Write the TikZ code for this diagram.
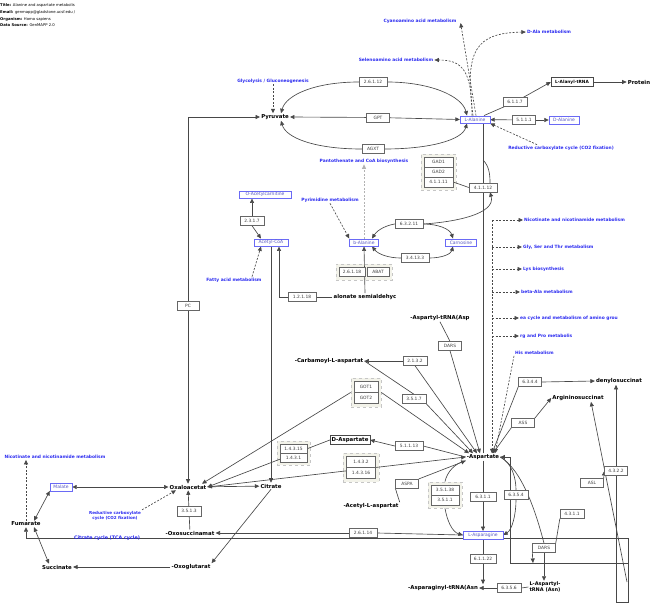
\documentclass[tikz,border=0pt]{standalone}
\usepackage{fontspec}
\setmainfont{DejaVu Sans}
\usetikzlibrary{arrows.meta,fit,calc}
\pgfdeclarelayer{grp}
\pgfdeclarelayer{edges}
\pgfsetlayers{grp,edges,main}
\definecolor{lc}{HTML}{484848}
\definecolor{pwblue}{HTML}{2B2BF0}
\definecolor{boxblue}{HTML}{6A6AF5}
\definecolor{grpfill}{HTML}{F3F3EA}
\begin{document}
\begin{tikzpicture}[x=1pt, y=-1pt,
  hdr/.style={anchor=west, inner sep=0pt, font=\fontsize{3.8}{4}\selectfont},
  met/.style={inner sep=1pt, font=\bfseries\fontsize{5.4}{6}\selectfont, align=center},
  metb/.style={met, draw=lc, fill=white, minimum height=9pt, inner sep=1.5pt},
  mbox/.style={rectangle, draw=boxblue, fill=white, text=boxblue!80!black, inner sep=0pt,
               minimum height=7.5pt, minimum width=#1, font=\fontsize{4.5}{5}\selectfont},
  mbox/.default=30pt,
  enz/.style={rectangle, draw=gray!80!black, fill=white, text=black!75, inner sep=0pt,
              minimum height=9pt, minimum width=#1, font=\fontsize{4.4}{5}\selectfont},
  enz/.default=24pt,
  pw/.style={text=pwblue, inner sep=1pt, align=center, font=\bfseries\fontsize{4.4}{5}\selectfont},
  pwr/.style={pw, anchor=west},
  grp/.style={draw=gray!45, dashed, fill=grpfill, inner sep=3pt},
  ln/.style={draw=lc, line width=0.65pt},
  arr/.style={ln, -{Triangle[length=4.5pt,width=4pt]}},
  bi/.style={ln, {Triangle[length=4.5pt,width=4pt]}-{Triangle[length=4.5pt,width=4pt]}},
  darr/.style={arr, dashed, dash pattern=on 2pt off 1.5pt}
]
  \useasboundingbox (0,0) rectangle (660,613);

  % header
  \node[hdr] (title) at (0,5) {\textbf{Title:} Alanine and aspartate metabolis};
  \node[hdr] (email) at (0,12) {\textbf{Email:} genmapp@gladstone.ucsf.edu /};
  \node[hdr] (org) at (0,19) {\textbf{Organism:} Homo sapiens};
  \node[hdr] (src) at (0,25) {\textbf{Data Source:} GenMAPP 2.0};

  % metabolites
  \node[met] (pyr) at (275,117) {Pyruvate};
  \node[mbox] (ala) at (475,119.5) {L-Alanine};
  \node[mbox] (dala) at (564,120) {D-Alanine};
  \node[metb, font=\bfseries\fontsize{4.3}{5}\selectfont, minimum width=42pt] (alat) at (572,82) {L-Alanyl-tRNA};
  \node[met] (prot) at (639,82) {Protein};
  \node[mbox=29pt] (bala) at (364,242.5) {b-Alanine};
  \node[mbox=31pt] (carn) at (461,242.5) {Carnosine};
  \node[mbox=34pt] (acoa) at (271,242.5) {Acetyl-CoA};
  \node[mbox=52pt] (oacc) at (265,194.5) {O-Acetylcarnitine};
  \node[met] (mal) at (365,297) {alonate semialdehyc};
  \node[met] (aspt) at (440,318) {-Aspartyl-tRNA(Asp};
  \node[met] (cbm) at (329,361) {-Carbamoyl-L-aspartat};
  \node[metb] (dasp) at (350,440) {D-Aspartate};
  \node[met] (asp) at (483,457) {-Aspartate};
  \node[met] (acasp) at (371,506) {-Acetyl-L-aspartat};
  \node[mbox=40pt] (asn) at (483,535) {L-Asparagine};
  \node[met] (asnt) at (443,588) {-Asparaginyl-tRNA(Asn};
  \node[met, font=\bfseries\fontsize{5}{5.6}\selectfont] (asptn) at (545,587) {L-Aspartyl-\\tRNA (Asn)};
  \node[met] (ads) at (619,381) {denylosuccinat};
  \node[met] (ags) at (578,398) {Argininosuccinat};
  \node[met] (oaa) at (188,487) {Oxaloacetat};
  \node[met] (cit) at (271,486) {Citrate};
  \node[mbox=22pt] (malate) at (61,487) {Malate};
  \node[met] (fum) at (26,524) {Fumarate};
  \node[met] (suc) at (57,567) {Succinate};
  \node[met] (oxs) at (190,533) {-Oxosuccinamat};
  \node[met] (ogl) at (191,567) {-Oxoglutarat};

  % enzymes
  \node[enz=28pt] (e26112) at (373,82) {2.6.1.12};
  \node[enz=23pt] (gpt) at (378,117.5) {GPT};
  \node[enz=22pt] (agxt) at (373,149) {AGXT};
  \node[enz] (e6117) at (515,102) {6.1.1.7};
  \node[enz=23pt] (e5111) at (524,120) {5.1.1.1};
  \node[enz=29pt, minimum height=10pt] (gad1) at (438.5,162) {GAD1};
  \node[enz=29pt, minimum height=10pt] (gad2) at (438.5,172) {GAD2};
  \node[enz=29pt, minimum height=10pt] (e41111) at (438.5,182) {4.1.1.11};
  \node[enz=28pt] (e41112) at (483,187.5) {4.1.1.12};
  \node[enz=28pt] (e63211) at (409,224) {6.3.2.11};
  \node[enz=28pt] (e34133) at (415,258) {3.4.13.3};
  \node[enz=26pt] (e26118) at (352,272) {2.6.1.18};
  \node[enz=22pt] (abat) at (378,272) {ABAT};
  \node[enz] (e23117) at (252,221) {2.3.1.7};
  \node[enz=28pt] (e12118) at (302,297) {1.2.1.18};
  \node[enz=22pt] (pc) at (188,306) {PC};
  \node[enz=23pt] (dars1) at (450,346) {DARS};
  \node[enz] (e2132) at (415,361) {2.1.3.2};
  \node[enz] (e3517) at (414,399) {3.5.1.7};
  \node[enz, minimum height=11pt] (got1) at (366,387) {GOT1};
  \node[enz, minimum height=11pt] (got2) at (366,398) {GOT2};
  \node[enz=28pt] (e51113) at (409,446) {5.1.1.13};
  \node[enz=27pt] (e14315) at (293.5,448.5) {1.4.3.15};
  \node[enz=27pt] (e1431) at (293.5,457.5) {1.4.3.1};
  \node[enz=29pt, minimum height=11pt] (e1432) at (361,462) {1.4.3.2};
  \node[enz=29pt, minimum height=11pt] (e14316) at (361,473) {1.4.3.16};
  \node[enz=23pt] (aspa) at (407,483.5) {ASPA};
  \node[enz=28pt, minimum height=10pt] (e35138) at (445,490) {3.5.1.38};
  \node[enz=28pt, minimum height=10pt] (e3511) at (445,500) {3.5.1.1};
  \node[enz=26pt] (e6311) at (483,497) {6.3.1.1};
  \node[enz=28pt] (e2614) at (363,533) {2.6.1.14};
  \node[enz=26pt] (e61122) at (483,559) {6.1.1.22};
  \node[enz] (e6356) at (509,588) {6.3.5.6};
  \node[enz] (e6354) at (516,495) {6.3.5.4};
  \node[enz=23pt] (dars2) at (544,548) {DARS};
  \node[enz] (e4311) at (572,514) {4.3.1.1};
  \node[enz=23pt] (e6344) at (530,382) {6.3.4.4};
  \node[enz=23pt] (ass) at (523,423) {ASS};
  \node[enz=23pt] (asl) at (592,483) {ASL};
  \node[enz=23pt] (e4322) at (616,471) {4.3.2.2};
  \node[enz=24pt, minimum height=10pt] (e3513) at (189,511) {3.5.1.3};

  % pathways
  \node[pw] (glyc) at (273,81) {Glycolysis / Gluconeogenesis};
  \node[pw] (cyan) at (420,21) {Cyanoamino acid metabolism};
  \node[pw] (selen) at (396,60) {Selenoamino acid metabolism};
  \node[pw] (dalapath) at (549,32) {D-Ala metabolism};
  \node[pw] (redc) at (561,148) {Reductive carboxylate cycle (CO2 fixation)};
  \node[pw] (panto) at (364,161) {Pantothenate and CoA biosynthesis};
  \node[pw] (pyrim) at (330,200) {Pyrimidine metabolism};
  \node[pw] (fatty) at (234,280) {Fatty acid metabolism};
  \node[pwr] (nicr) at (523,220) {Nicotinate and nicotinamide metabolism};
  \node[pwr] (gly) at (522,247) {Gly, Ser and Thr metabolism};
  \node[pwr] (lys) at (522,269) {Lys biosynthesis};
  \node[pwr] (beta) at (520,292) {beta-Ala metabolism};
  \node[pwr] (urea) at (519,318) {ea cycle and metabolism of amino grou};
  \node[pwr] (argp) at (519,336) {rg and Pro metabolis};
  \node[pwr] (his) at (514,353) {His metabolism};
  \node[pw] (nicl) at (55,457) {Nicotinate and nicotinamide metabolism};
  \node[pw, font=\bfseries\fontsize{4.1}{5}\selectfont] (redcl) at (115,515.5) {Reductive carboxylate\\cycle (CO2 fixation)};
  \node[pw, font=\bfseries\fontsize{4.8}{5}\selectfont] (tca) at (107,538) {Citrate cycle (TCA cycle)};

  \begin{pgfonlayer}{grp}
    \node[grp, fit=(gad1)(e41111)] (gadgrp) {};
    \node[grp, fit=(e26118)(abat)] (abatgrp) {};
    \node[grp, fit=(got1)(got2)] (gotgrp) {};
    \node[grp, fit=(e14315)(e1431)] (ox15grp) {};
    \node[grp, fit=(e1432)(e14316)] (ox2grp) {};
    \node[grp, fit=(e35138)(e3511)] (asngrp) {};
  \end{pgfonlayer}

  \coordinate (dtop) at (492,220);
  \coordinate (k1) at (483,160);
  \coordinate (tcaR) at (628,538);
  \coordinate (rtl) at (510,457);
  \coordinate (rbl) at (510,563);
  \coordinate (rbr) at (628,563);
  \coordinate (nb) at (628,602);
  \coordinate (nbl) at (616,602);
  \coordinate (dg) at (627,582);
  \coordinate (rb) at (533,563);

  \begin{pgfonlayer}{edges}
  % alanine
  \draw[arr] (gpt) -- (pyr.east);
  \draw[arr] (gpt) -- (ala.west);
  \draw[arr] (e26112.west) .. controls (315,82) and (286,95) .. ([xshift=6pt]pyr.north);
  \draw[arr] (e26112.east) .. controls (430,82) and (462,96) .. ([xshift=-8pt]ala.north);
  \draw[arr] (agxt.west) .. controls (315,149) and (286,138) .. ([xshift=6pt]pyr.south);
  \draw[arr] (agxt.east) .. controls (430,149) and (462,140) .. ([xshift=-8pt]ala.south);
  \draw[arr] (pc.north) |- (pyr.west);
  \draw[arr] (pc.south) -- (oaa.north);
  \draw[darr] (glyc.south) -- (glyc.south |- pyr.north);
  \draw[darr] ([xshift=1pt]ala.north) -- ([xshift=3pt,yshift=-2pt]cyan.east);
  \draw[darr] ([xshift=-3pt]ala.north) .. controls (472,70) and (462,60) .. (selen.east);
  \draw[darr] ([xshift=-2pt]ala.north) .. controls (464,50) and (476,33) .. (dalapath.west);
  \draw[darr] ($(redc.north west)+(30,0)$) -- (ala.south east);
  \draw[ln] (ala) -- (e6117);
  \draw[arr] (e6117) -- (alat.west);
  \draw[arr] (alat) -- (prot);
  \draw[arr] (e5111) -- (ala);
  \draw[arr] (e5111) -- (dala);
  \draw[ln] (asp.north) -- (asp.north |- ala.south);
  % beta-alanine
  \draw[ln] (e41111.east) -- (e41112.west);
  \draw[ln] (k1) .. controls (489,166) and (490,174) .. ([xshift=7pt]e41112.north);
  \draw[arr] (e63211.east) .. controls (455,222) and (496,214) .. ([xshift=7pt]e41112.south);
  \draw[arr] (e63211.west) .. controls (388,225) and (378,229) .. ([xshift=8pt]bala.north);
  \draw[arr] (e63211.east) .. controls (438,224) and (450,229) .. ([xshift=-8pt]carn.north);
  \draw[arr] (e34133.west) .. controls (388,258) and (378,254) .. ([xshift=8pt]bala.south);
  \draw[arr] (e34133.east) .. controls (442,258) and (451,254) .. ([xshift=-8pt]carn.south);
  \draw[darr, line width=1pt, draw=gray!60] (bala.north) -- (panto.south);
  \draw[darr] (pyrim.south) -- (bala.north west);
  \draw[arr] (mal.north) -- (bala.south);
  \draw[ln] (mal.west) -- (e12118.east);
  \draw[arr] (e12118.west) -| ([xshift=8pt]acoa.south);
  \draw[arr] (e23117.north) -- (e23117.north |- oacc.south);
  \draw[arr] (e23117.south) -- ([xshift=-10pt]acoa.north);
  \draw[darr] ([xshift=18pt]fatty.north) -- ([xshift=-10pt]acoa.south);
  \draw[arr] (acoa.south) -- (cit.north);
  % TCA
  \draw[bi] (malate) -- (oaa);
  \draw[arr] (oaa) -- (cit);
  \draw[bi] (malate.south west) -- ([xshift=8pt]fum.north);
  \draw[bi] ([xshift=8pt]fum.south) -- ([xshift=-8pt]suc.north);
  \draw[arr] (ogl) -- (suc);
  \draw[arr] (cit.south) -- (ogl.north east);
  \draw[ln] (oxs) -- (e3513);
  \draw[arr] (e3513) -- (oaa);
  \draw[darr] (redcl.north east) -- ([xshift=-12pt]oaa.south);
  \draw[darr] (fum.north) -- (fum.north |- nicl.south);
  \draw[arr] (tcaR) -| (fum.south);
  % aspartate
  \draw[darr] (dtop) -- ([xshift=9pt]asp.north);
  \foreach \p in {nicr,gly,lys,beta,urea,argp}
    \draw[darr] (dtop |- \p.west) -- (\p.west);
  \draw[darr] (his.south west) -- ([xshift=12pt]asp.north);
  \draw[ln] (aspt.south) -- (dars1.north);
  \draw[arr] (dars1.south) -- ([xshift=-3pt]asp.north);
  \draw[arr] (e2132.west) -- (cbm.east);
  \draw[arr] (e2132.south) -- ([xshift=-6pt]asp.north);
  \draw[ln] (cbm.east) -- (e3517.north);
  \draw[arr] (e3517.south east) -- ([xshift=-10pt]asp.north);
  \draw[arr] (gotgrp.east) -- ([xshift=-14pt]asp.north);
  \draw[arr] (gotgrp.west) -- ([xshift=14pt]oaa.north);
  \draw[ln] (asp.west) -- (e51113.east);
  \draw[arr] (e51113.west) -- (dasp.east);
  \draw[arr] (dasp.west) -- (oaa.east);
  \draw[bi] (asp.west) -- (oaa.east);
  \draw[arr] (aspa) -- (asp.south west);
  \draw[ln] (acasp.north east) -- (aspa.south west);
  \draw[ln] (asp.south west) .. controls (455,463) and (447,472) .. (asngrp.north);
  \draw[arr] (asngrp.south) .. controls (447,520) and (452,532) .. (asn.west);
  \draw[ln] (asp.south) -- (e6311.north);
  \draw[arr] (e6311.south) -- (asn.north);
  \draw[ln] (asn.west) -- (e2614.east);
  \draw[arr] (e2614.west) -- (oxs.east);
  \draw[ln] (asn.south) -- (e61122.north);
  \draw[arr] (e61122.south) -- (e61122.south |- asnt.north);
  \draw[ln] (asptn.west) -- (e6356.east);
  \draw[arr] (e6356.west) -- (asnt.east);
  \draw[ln] (asp.east) .. controls (512,463) and (516,478) .. (e6354.north);
  \draw[arr] (e6354.south) .. controls (516,515) and (512,530) .. (asn.east);
  \draw[ln] (asp.east) .. controls (522,470) and (536,512) .. (dars2.north);
  \draw[arr] (dars2.south) -- (dars2.south |- asptn.north);
  \draw[arr] (dars2.south west) -- (rb);
  \draw[ln] (e4311.south west) -- (dars2.north east);
  \draw[arr] (e6344.east) -- (ads.west);
  \draw[arr] (e6344.south west) -- ([xshift=9pt]asp.north);
  \draw[arr] (ass.north east) -- (ags.west);
  \draw[arr] (ass.south west) -- ([xshift=10pt]asp.north);
  \draw[arr] (rbl) -- (rtl) -- (asp.east);
  \draw[ln] (rbl) -- (rbr);
  \draw[ln] (tcaR) -- (nb) -- (nbl);
  \draw[arr] (nbl) -- (nbl |- ads.south);
  \draw[arr] (dg) -- ([xshift=13pt]ags.south);
  \draw[arr] (asl.north east) -- (e4322.west);
  \end{pgfonlayer}
\end{tikzpicture}
\end{document}
